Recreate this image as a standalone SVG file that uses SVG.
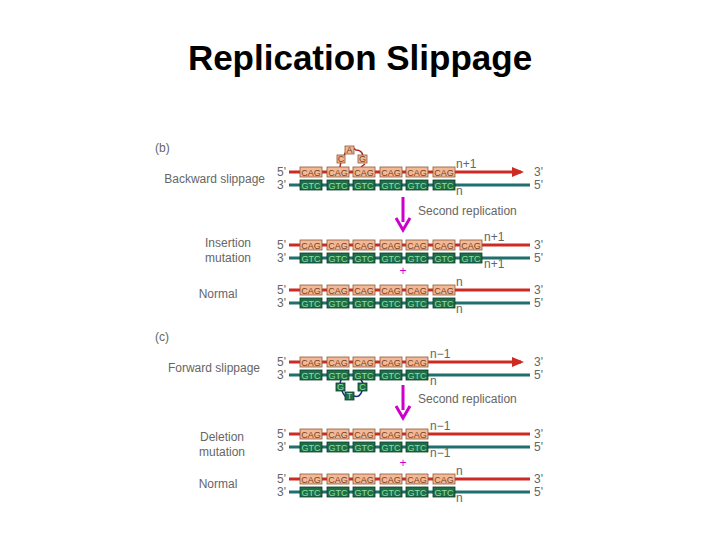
<svg xmlns="http://www.w3.org/2000/svg" width="720" height="540" viewBox="0 0 720 540">
<style>
text{font-family:"Liberation Sans",Arial,sans-serif}
.t{font-size:12px;fill:#666}
.r{stroke:#cc2a22;stroke-width:3}
.g{stroke:#1f6f6f;stroke-width:3}
.c rect{fill:#f3b896;stroke:#8a5a3a;stroke-width:0.8}
.c text{font-size:9px;fill:#7a4020;text-anchor:middle}
.d rect{fill:#1e6e4a;stroke:#0d3a25;stroke-width:0.8}
.d text{font-size:9px;fill:#8fe0a0;text-anchor:middle}
.m{fill:none;stroke:#cc00cc;stroke-width:3}
</style>
<defs>
<marker id="ah" markerWidth="4" markerHeight="4" refX="3" refY="2" orient="auto" markerUnits="strokeWidth"><path d="M0,0.3L4,2L0,3.7z" fill="#cc2a22"/></marker>
</defs>
<text x="360" y="70" font-size="35" font-weight="bold" text-anchor="middle" fill="#000">Replication Slippage</text>

<g id="labels" class="t">
<text x="155" y="152">(b)</text>
<text x="265" y="183" text-anchor="end">Backward slippage</text>
<text x="228" y="247" text-anchor="middle">Insertion</text>
<text x="228" y="262" text-anchor="middle">mutation</text>
<text x="218" y="298" text-anchor="middle">Normal</text>
<text x="155" y="341">(c)</text>
<text x="260" y="372" text-anchor="end">Forward slippage</text>
<text x="222" y="441" text-anchor="middle">Deletion</text>
<text x="222" y="456" text-anchor="middle">mutation</text>
<text x="218" y="488" text-anchor="middle">Normal</text>
<text x="418" y="215">Second replication</text>
<text x="418" y="403">Second replication</text>
</g>

<g id="ends" class="t" font-size="11">
<text x="277" y="176">5'</text><text x="277" y="189">3'</text><text x="534" y="176">3'</text><text x="534" y="189">5'</text>
<text x="277" y="249">5'</text><text x="277" y="262">3'</text><text x="534" y="249">3'</text><text x="534" y="262">5'</text>
<text x="277" y="294">5'</text><text x="277" y="307">3'</text><text x="534" y="294">3'</text><text x="534" y="307">5'</text>
<text x="277" y="366">5'</text><text x="277" y="379">3'</text><text x="534" y="366">3'</text><text x="534" y="379">5'</text>
<text x="277" y="438">5'</text><text x="277" y="451">3'</text><text x="534" y="438">3'</text><text x="534" y="451">5'</text>
<text x="277" y="483">5'</text><text x="277" y="496">3'</text><text x="534" y="483">3'</text><text x="534" y="496">5'</text>
</g>

<g id="connectors">
<line class="r" x1="289" y1="172" x2="521" y2="172" marker-end="url(#ah)"/>
<line class="g" x1="289" y1="185" x2="530" y2="185"/>
<line class="r" x1="289" y1="245" x2="530" y2="245"/>
<line class="g" x1="289" y1="258" x2="530" y2="258"/>
<line class="r" x1="289" y1="290" x2="530" y2="290"/>
<line class="g" x1="289" y1="303" x2="530" y2="303"/>
<line class="r" x1="289" y1="362" x2="521" y2="362" marker-end="url(#ah)"/>
<line class="g" x1="289" y1="375" x2="530" y2="375"/>
<line class="r" x1="289" y1="434" x2="530" y2="434"/>
<line class="g" x1="289" y1="447" x2="530" y2="447"/>
<line class="r" x1="289" y1="479" x2="530" y2="479"/>
<line class="g" x1="289" y1="492" x2="530" y2="492"/>
<path d="M340,167 L341,161 M344,156 Q349,143 356,150 Q362,150 363,156 M365,164 L361,167" fill="none" stroke="#b02020" stroke-width="1.5"/>
<path d="M341,380 L340,383 M342,391 Q345,398 347,396 M354,396 Q360,398 362,391 M363,383 L361,380" fill="none" stroke="#1a2a8a" stroke-width="1.5"/>
<line class="m" x1="403" y1="197" x2="403" y2="222"/>
<path d="M396,218 L403,230 L410,218" class="m"/>
<line class="m" x1="403" y1="385" x2="403" y2="410"/>
<path d="M396,406 L403,418 L410,406" class="m"/>
<text x="403" y="275" font-size="12" fill="#cc00cc" text-anchor="middle">+</text>
<text x="403" y="467" font-size="12" fill="#cc00cc" text-anchor="middle">+</text>
</g>

<g id="n-labels" class="t" font-size="10">
<text x="456" y="168">n+1</text><text x="456" y="195">n</text>
<text x="484" y="241">n+1</text><text x="484" y="268">n+1</text>
<text x="456" y="286">n</text><text x="456" y="313">n</text>
<text x="430" y="358">n−1</text><text x="430" y="385">n</text>
<text x="430" y="430">n−1</text><text x="430" y="457">n−1</text>
<text x="456" y="475">n</text><text x="456" y="502">n</text>
</g>

<g id="bwd-top" class="c">
<rect x="300" y="167" width="22" height="10"/><text x="311" y="176">CAG</text>
<rect x="327" y="167" width="22" height="10"/><text x="338" y="176">CAG</text>
<rect x="353" y="167" width="22" height="10"/><text x="364" y="176">CAG</text>
<rect x="380" y="167" width="22" height="10"/><text x="391" y="176">CAG</text>
<rect x="406" y="167" width="22" height="10"/><text x="417" y="176">CAG</text>
<rect x="433" y="167" width="22" height="10"/><text x="444" y="176">CAG</text>
<rect x="337" y="155" width="8" height="8"/><text x="341" y="162">C</text>
<rect x="345" y="146" width="9" height="8"/><text x="349.5" y="153">A</text>
<rect x="358" y="155" width="9" height="8"/><text x="362.5" y="162">G</text>
</g>
<g id="bwd-bot" class="d">
<rect x="300" y="180" width="22" height="10"/><text x="311" y="189">GTC</text>
<rect x="327" y="180" width="22" height="10"/><text x="338" y="189">GTC</text>
<rect x="353" y="180" width="22" height="10"/><text x="364" y="189">GTC</text>
<rect x="380" y="180" width="22" height="10"/><text x="391" y="189">GTC</text>
<rect x="406" y="180" width="22" height="10"/><text x="417" y="189">GTC</text>
<rect x="433" y="180" width="22" height="10"/><text x="444" y="189">GTC</text>
</g>

<g id="ins-top" class="c">
<rect x="300" y="240" width="22" height="10"/><text x="311" y="249">CAG</text>
<rect x="327" y="240" width="22" height="10"/><text x="338" y="249">CAG</text>
<rect x="353" y="240" width="22" height="10"/><text x="364" y="249">CAG</text>
<rect x="380" y="240" width="22" height="10"/><text x="391" y="249">CAG</text>
<rect x="406" y="240" width="22" height="10"/><text x="417" y="249">CAG</text>
<rect x="433" y="240" width="22" height="10"/><text x="444" y="249">CAG</text>
<rect x="460" y="240" width="22" height="10"/><text x="471" y="249">CAG</text>
</g>
<g id="ins-bot" class="d">
<rect x="300" y="253" width="22" height="10"/><text x="311" y="262">GTC</text>
<rect x="327" y="253" width="22" height="10"/><text x="338" y="262">GTC</text>
<rect x="353" y="253" width="22" height="10"/><text x="364" y="262">GTC</text>
<rect x="380" y="253" width="22" height="10"/><text x="391" y="262">GTC</text>
<rect x="406" y="253" width="22" height="10"/><text x="417" y="262">GTC</text>
<rect x="433" y="253" width="22" height="10"/><text x="444" y="262">GTC</text>
<rect x="460" y="253" width="22" height="10"/><text x="471" y="262">GTC</text>
</g>

<g id="norm1-top" class="c">
<rect x="300" y="285" width="22" height="10"/><text x="311" y="294">CAG</text>
<rect x="327" y="285" width="22" height="10"/><text x="338" y="294">CAG</text>
<rect x="353" y="285" width="22" height="10"/><text x="364" y="294">CAG</text>
<rect x="380" y="285" width="22" height="10"/><text x="391" y="294">CAG</text>
<rect x="406" y="285" width="22" height="10"/><text x="417" y="294">CAG</text>
<rect x="433" y="285" width="22" height="10"/><text x="444" y="294">CAG</text>
</g>
<g id="norm1-bot" class="d">
<rect x="300" y="298" width="22" height="10"/><text x="311" y="307">GTC</text>
<rect x="327" y="298" width="22" height="10"/><text x="338" y="307">GTC</text>
<rect x="353" y="298" width="22" height="10"/><text x="364" y="307">GTC</text>
<rect x="380" y="298" width="22" height="10"/><text x="391" y="307">GTC</text>
<rect x="406" y="298" width="22" height="10"/><text x="417" y="307">GTC</text>
<rect x="433" y="298" width="22" height="10"/><text x="444" y="307">GTC</text>
</g>

<g id="fwd-top" class="c">
<rect x="300" y="357" width="22" height="10"/><text x="311" y="366">CAG</text>
<rect x="327" y="357" width="22" height="10"/><text x="338" y="366">CAG</text>
<rect x="353" y="357" width="22" height="10"/><text x="364" y="366">CAG</text>
<rect x="380" y="357" width="22" height="10"/><text x="391" y="366">CAG</text>
<rect x="406" y="357" width="22" height="10"/><text x="417" y="366">CAG</text>
</g>
<g id="fwd-bot" class="d">
<rect x="300" y="370" width="22" height="10"/><text x="311" y="379">GTC</text>
<rect x="327" y="370" width="22" height="10"/><text x="338" y="379">GTC</text>
<rect x="353" y="370" width="22" height="10"/><text x="364" y="379">GTC</text>
<rect x="380" y="370" width="22" height="10"/><text x="391" y="379">GTC</text>
<rect x="406" y="370" width="22" height="10"/><text x="417" y="379">GTC</text>
<rect x="336" y="383" width="9" height="8"/><text x="340.5" y="390">G</text>
<rect x="345" y="392" width="9" height="8"/><text x="349.5" y="399">T</text>
<rect x="358" y="383" width="9" height="8"/><text x="362.5" y="390">C</text>
</g>

<g id="del-top" class="c">
<rect x="300" y="429" width="22" height="10"/><text x="311" y="438">CAG</text>
<rect x="327" y="429" width="22" height="10"/><text x="338" y="438">CAG</text>
<rect x="353" y="429" width="22" height="10"/><text x="364" y="438">CAG</text>
<rect x="380" y="429" width="22" height="10"/><text x="391" y="438">CAG</text>
<rect x="406" y="429" width="22" height="10"/><text x="417" y="438">CAG</text>
</g>
<g id="del-bot" class="d">
<rect x="300" y="442" width="22" height="10"/><text x="311" y="451">GTC</text>
<rect x="327" y="442" width="22" height="10"/><text x="338" y="451">GTC</text>
<rect x="353" y="442" width="22" height="10"/><text x="364" y="451">GTC</text>
<rect x="380" y="442" width="22" height="10"/><text x="391" y="451">GTC</text>
<rect x="406" y="442" width="22" height="10"/><text x="417" y="451">GTC</text>
</g>

<g id="norm2-top" class="c">
<rect x="300" y="474" width="22" height="10"/><text x="311" y="483">CAG</text>
<rect x="327" y="474" width="22" height="10"/><text x="338" y="483">CAG</text>
<rect x="353" y="474" width="22" height="10"/><text x="364" y="483">CAG</text>
<rect x="380" y="474" width="22" height="10"/><text x="391" y="483">CAG</text>
<rect x="406" y="474" width="22" height="10"/><text x="417" y="483">CAG</text>
<rect x="433" y="474" width="22" height="10"/><text x="444" y="483">CAG</text>
</g>
<g id="norm2-bot" class="d">
<rect x="300" y="487" width="22" height="10"/><text x="311" y="496">GTC</text>
<rect x="327" y="487" width="22" height="10"/><text x="338" y="496">GTC</text>
<rect x="353" y="487" width="22" height="10"/><text x="364" y="496">GTC</text>
<rect x="380" y="487" width="22" height="10"/><text x="391" y="496">GTC</text>
<rect x="406" y="487" width="22" height="10"/><text x="417" y="496">GTC</text>
<rect x="433" y="487" width="22" height="10"/><text x="444" y="496">GTC</text>
</g>
</svg>
